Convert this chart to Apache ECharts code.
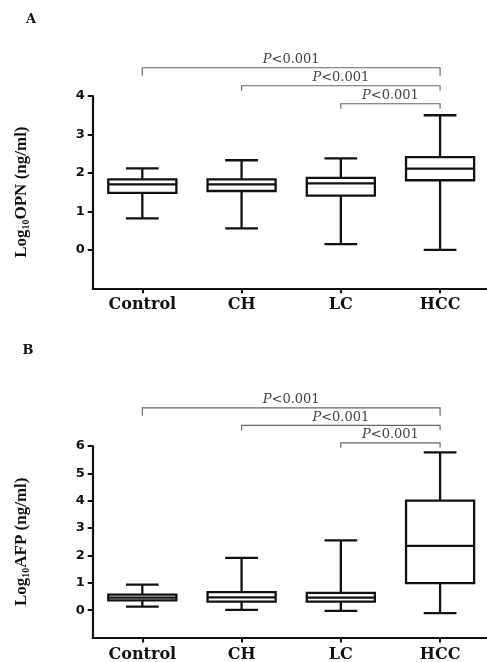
<!DOCTYPE html>
<html><head><meta charset="utf-8">
<script src="https://cdn.jsdelivr.net/npm/echarts@6/dist/echarts.min.js"></script>
<style>html,body{margin:0;padding:0;background:#fff}#c{width:487px;height:662px}</style>
</head><body><div id="c"></div>
<script>
// ---- data ----
const categories = ['Control', 'CH', 'LC', 'HCC'];
// Panel A: Log10 OPN (ng/ml)
const opnLow    = [0.82, 0.56, 0.15, 0.00];
const opnQ1     = [1.48, 1.53, 1.41, 1.81];
const opnMedian = [1.70, 1.70, 1.73, 2.11];
const opnQ3     = [1.83, 1.83, 1.87, 2.41];
const opnHigh   = [2.12, 2.33, 2.38, 3.50];
const opnTicks  = [0, 1, 2, 3, 4];
// Panel B: Log10 AFP (ng/ml)
const afpLow    = [0.13, 0.01, -0.03, -0.11];
const afpQ1     = [0.36, 0.31, 0.31, 0.99];
const afpMedian = [0.46, 0.47, 0.46, 2.35];
const afpQ3     = [0.57, 0.66, 0.63, 4.00];
const afpHigh   = [0.93, 1.91, 2.55, 5.77];
const afpTicks  = [0, 1, 2, 3, 4, 5, 6];
// pairwise comparisons [fromCategory, toCategory]
const comparisons = [[0, 3], [1, 3], [2, 3]];
const pLabels = ['P<0.001', 'P<0.001', 'P<0.001'];

// ---- rendering ----
const INK = '#111';
const SERIF = 'DejaVu Serif';
const TSERIF = 'Liberation Serif';

function boxRows(lo, q1, md, q3, hi) {
  return categories.map((c, i) => [i, lo[i], q1[i], md[i], q3[i], hi[i]]);
}

function renderBox(params, api) {
  const i = api.value(0);
  const band = api.size([1, 0])[0];
  const hw = band * 0.343, cw = band * 0.165;
  const pLo = api.coord([i, api.value(1)]);
  const pQ1 = api.coord([i, api.value(2)]);
  const pMd = api.coord([i, api.value(3)]);
  const pQ3 = api.coord([i, api.value(4)]);
  const pHi = api.coord([i, api.value(5)]);
  const x = pLo[0];
  const st = { stroke: INK, lineWidth: 2.3 };
  return {
    type: 'group',
    children: [
      { type: 'line', shape: { x1: x, y1: pHi[1], x2: x, y2: pQ3[1] }, style: st },
      { type: 'line', shape: { x1: x, y1: pQ1[1], x2: x, y2: pLo[1] }, style: st },
      { type: 'line', shape: { x1: x - cw, y1: pHi[1], x2: x + cw, y2: pHi[1] }, style: st },
      { type: 'line', shape: { x1: x - cw, y1: pLo[1], x2: x + cw, y2: pLo[1] }, style: st },
      { type: 'rect', shape: { x: x - hw, y: pQ3[1], width: 2 * hw, height: pQ1[1] - pQ3[1] },
        style: { stroke: INK, lineWidth: 2.3, fill: '#fff' } },
      { type: 'line', shape: { x1: x - hw, y1: pMd[1], x2: x + hw, y2: pMd[1] }, style: st }
    ]
  };
}

function makeBracketRender(highs, gap, step) {
  const top = Math.max.apply(null, highs);
  const topIdx = highs.indexOf(top);
  return function (params, api) {
    const a = api.value(0), b = api.value(1), level = api.value(2);
    const x1 = api.coord([a, 0])[0];
    const x2 = api.coord([b, 0])[0];
    const y = api.coord([topIdx, top])[1] - gap - step * level;
    const tick = level === comparisons.length - 1 ? 8 : 5;
    const lab = pLabels[params.dataIndex];
    return {
      type: 'group',
      children: [
        { type: 'polyline', shape: { points: [[x1, y + tick], [x1, y], [x2, y], [x2, y + tick]] },
          style: { stroke: '#666', lineWidth: 1.2, fill: null } },
        { type: 'text', x: (x1 + x2) / 2, y: y - 8,
          style: {
            text: '{i|' + lab.charAt(0) + '}{n|' + lab.slice(1) + '}',
            align: 'center', verticalAlign: 'middle',
            fontFamily: SERIF, fontSize: 13, fill: '#444',
            rich: {
              i: { fontFamily: SERIF, fontSize: 13, fontStyle: 'italic', fill: '#444' },
              n: { fontFamily: SERIF, fontSize: 13, fill: '#444' }
            }
          } }
      ]
    };
  };
}

function yAxisFor(grid, min, max, ticks, label) {
  return {
    gridIndex: grid, type: 'value', min: min, max: max, interval: 1,
    name: '{a|Log}{s|10}{a|' + label + '}', nameLocation: 'middle', nameGap: 61, nameRotate: 90,
    nameTextStyle: {
      rich: {
        a: { fontFamily: TSERIF, fontWeight: 'bold', fontSize: 17, lineHeight: 20, color: INK },
        s: { fontFamily: TSERIF, fontWeight: 'bold', fontSize: 10, lineHeight: 12, verticalAlign: 'bottom', color: INK }
      }
    },
    axisLine: { show: true, lineStyle: { color: INK, width: 2.2 } },
    axisTick: { show: true, length: 5, customValues: ticks, lineStyle: { color: INK, width: 2 } },
    axisLabel: { customValues: ticks, margin: 8, fontFamily: 'DejaVu Sans', fontWeight: 'bold', fontSize: 13, color: INK,
      formatter: v => String(v) },
    splitLine: { show: false }
  };
}

function xAxisFor(grid) {
  return {
    gridIndex: grid, type: 'category', data: categories, boundaryGap: true,
    axisLine: { show: true, onZero: false, lineStyle: { color: INK, width: 2.2 } },
    axisTick: { show: true, alignWithLabel: true, length: 5, lineStyle: { color: INK, width: 2 } },
    axisLabel: { margin: 9, fontFamily: SERIF, fontWeight: 'bold', fontSize: 16, color: INK, interval: 0 },
    splitLine: { show: false }
  };
}

const bracketRows = comparisons.map(c => [c[0], c[1], c[1] - c[0] - 1]);

const option = {
  animation: false,
  backgroundColor: '#fff',
  title: [
    { text: 'A', left: 26, top: 13, padding: 0, textStyle: { fontFamily: SERIF, fontWeight: 'bold', fontSize: 13, color: INK } },
    { text: 'B', left: 22.5, top: 344.5, padding: 0, textStyle: { fontFamily: SERIF, fontWeight: 'bold', fontSize: 13, color: INK } }
  ],
  grid: [
    { left: 92.7, top: 96, width: 397, height: 192.3, containLabel: false, outerBoundsMode: 'none' },
    { left: 92.7, top: 446, width: 397, height: 191.5, containLabel: false, outerBoundsMode: 'none' }
  ],
  xAxis: [xAxisFor(0), xAxisFor(1)],
  yAxis: [
    yAxisFor(0, -1, 4, opnTicks, 'OPN (ng/ml)'),
    yAxisFor(1, -1, 6, afpTicks, 'AFP (ng/ml)')
  ],
  series: [
    { type: 'custom', xAxisIndex: 0, yAxisIndex: 0, clip: false, silent: true,
      encode: { x: 0, y: [1, 2, 3, 4, 5] },
      data: boxRows(opnLow, opnQ1, opnMedian, opnQ3, opnHigh), renderItem: renderBox },
    { type: 'custom', xAxisIndex: 1, yAxisIndex: 1, clip: false, silent: true,
      encode: { x: 0, y: [1, 2, 3, 4, 5] },
      data: boxRows(afpLow, afpQ1, afpMedian, afpQ3, afpHigh), renderItem: renderBox },
    { type: 'custom', xAxisIndex: 0, yAxisIndex: 0, clip: false, silent: true,
      encode: { x: [0, 1], y: 2 },
      data: bracketRows, renderItem: makeBracketRender(opnHigh, 11.5, 18) },
    { type: 'custom', xAxisIndex: 1, yAxisIndex: 1, clip: false, silent: true,
      encode: { x: [0, 1], y: 2 },
      data: bracketRows, renderItem: makeBracketRender(afpHigh, 9.5, 17.5) }
  ]
};

const chart = echarts.init(document.getElementById('c'));
chart.setOption(option);
</script>
</body></html>
